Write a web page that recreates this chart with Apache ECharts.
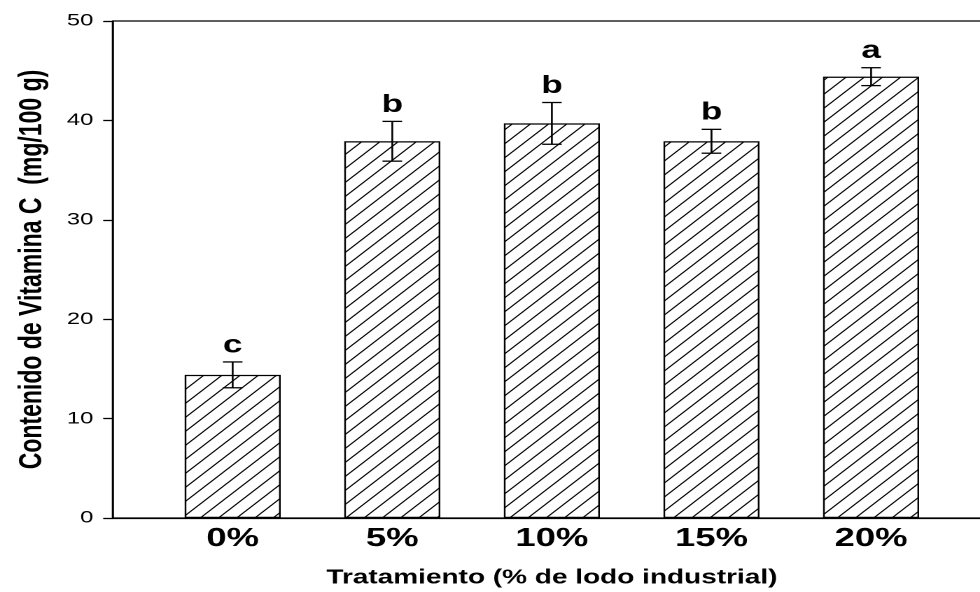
<!DOCTYPE html>
<html>
<head>
<meta charset="utf-8">
<script src="https://cdn.jsdelivr.net/npm/echarts@6/dist/echarts.min.js"></script>
<style>
  html, body { margin: 0; padding: 0; background: #fff; overflow: hidden; }
  /* chart is laid out narrow and widened horizontally, like the original figure */
  #chart { width: 700px; height: 592px; transform: scaleX(1.4); transform-origin: 0 0; }
</style>
</head>
<body>
<div id="chart"></div>
<script>
// Tratamiento (% de lodo industrial)
const categories = ['0%', '5%', '10%', '15%', '20%'];
// Contenido de vitamina C (mg/100 g), media
const means = [14.4, 37.9, 39.7, 37.9, 44.4];
// desviación (barra de error)
const errors = [1.3, 2.0, 2.1, 1.2, 0.9];
// letras de comparación de medias
const groups = ['c', 'b', 'b', 'b', 'a'];
const yTicks = [0, 10, 20, 30, 40, 50];

const FONT = '"Liberation Sans", Arial, Helvetica, sans-serif';

// diagonal hatch tile (drawn at 2x, scaled back by the pattern)
function hatchTile() {
  const w = 26, h = 28;
  const c = document.createElement('canvas');
  c.width = w; c.height = h;
  const ctx = c.getContext('2d');
  ctx.fillStyle = '#fff';
  ctx.fillRect(0, 0, w, h);
  ctx.strokeStyle = '#000';
  ctx.lineWidth = 2;
  ctx.beginPath();
  ctx.moveTo(-w, 2 * h); ctx.lineTo(2 * w, -h);
  ctx.moveTo(-2 * w, 2 * h); ctx.lineTo(w, -h);
  ctx.moveTo(0, 2 * h); ctx.lineTo(3 * w, -h);
  ctx.stroke();
  return c;
}

const barData = categories.map((c, i) => [i, means[i]]);
const errData = categories.map((c, i) => [i, means[i], errors[i]]);

const chart = echarts.init(document.getElementById('chart'), null, { devicePixelRatio: 2 });

chart.setOption({
  animation: false,
  backgroundColor: '#fff',
  textStyle: { fontFamily: FONT, color: '#000' },
  grid: {
    left: 80.7, top: 21, width: 627, height: 497,
    outerBoundsMode: 'none',
    containLabel: false,
    show: true, borderColor: '#000', borderWidth: 1.3, backgroundColor: 'transparent'
  },
  xAxis: {
    type: 'value',
    min: -0.75, max: 4.75, interval: 0.25,
    axisLine: { show: true, onZero: false, lineStyle: { color: '#000', width: 1.3 } },
    axisTick: { show: false },
    splitLine: { show: false },
    axisLabel: {
      margin: 8,
      fontSize: 26, fontWeight: 'bold', fontFamily: FONT, color: '#000',
      formatter: function (v) {
        const i = Math.round(v);
        return (Math.abs(v - i) < 1e-6 && i >= 0 && i < categories.length) ? categories[i] : '';
      }
    },
    name: 'Tratamiento (% de lodo industrial)',
    nameLocation: 'middle',
    nameGap: 50,
    nameTextStyle: { fontSize: 20, fontWeight: 'bold', fontFamily: FONT, color: '#000' }
  },
  yAxis: {
    type: 'value',
    min: yTicks[0], max: yTicks[yTicks.length - 1], interval: yTicks[1] - yTicks[0],
    axisLine: { show: true, onZero: false, lineStyle: { color: '#000', width: 1.3 } },
    axisTick: { show: true, inside: false, length: 7, lineStyle: { color: '#000', width: 1.3 } },
    splitLine: { show: false },
    axisLabel: { margin: 14, fontSize: 17, fontFamily: FONT, color: '#000' },
    name: 'Contenido de Vitamina C  (mg/100 g)',
    nameLocation: 'middle',
    nameRotate: 90,
    nameGap: 46,
    nameTextStyle: { fontSize: 23, fontWeight: 'bold', fontFamily: FONT, color: '#000' }
  },
  series: [
    {
      type: 'bar',
      data: barData,
      barWidth: 68.6,
      itemStyle: {
        color: { image: hatchTile(), repeat: 'repeat', scaleX: 0.5, scaleY: 0.5 },
        borderColor: '#000',
        borderWidth: 1.2
      },
      z: 2
    },
    {
      type: 'custom',
      data: errData,
      encode: { x: 0, y: 1 },
      z: 5,
      renderItem: function (params, api) {
        const x = api.value(0), m = api.value(1), e = api.value(2);
        const top = api.coord([x, m + e]);
        const bot = api.coord([x, m - e]);
        const hw = 7;
        const ls = { stroke: '#000', lineWidth: 1.3 };
        return {
          type: 'group',
          children: [
            { type: 'line', shape: { x1: top[0], y1: top[1], x2: bot[0], y2: bot[1] }, style: ls },
            { type: 'line', shape: { x1: top[0] - hw, y1: top[1], x2: top[0] + hw, y2: top[1] }, style: ls },
            { type: 'line', shape: { x1: bot[0] - hw, y1: bot[1], x2: bot[0] + hw, y2: bot[1] }, style: ls },
            {
              type: 'text',
              style: {
                text: groups[params.dataIndex],
                x: top[0], y: top[1] - 4,
                align: 'center', verticalAlign: 'bottom',
                font: 'bold 25px ' + FONT,
                fill: '#000'
              }
            }
          ]
        };
      }
    }
  ]
});
</script>
</body>
</html>
